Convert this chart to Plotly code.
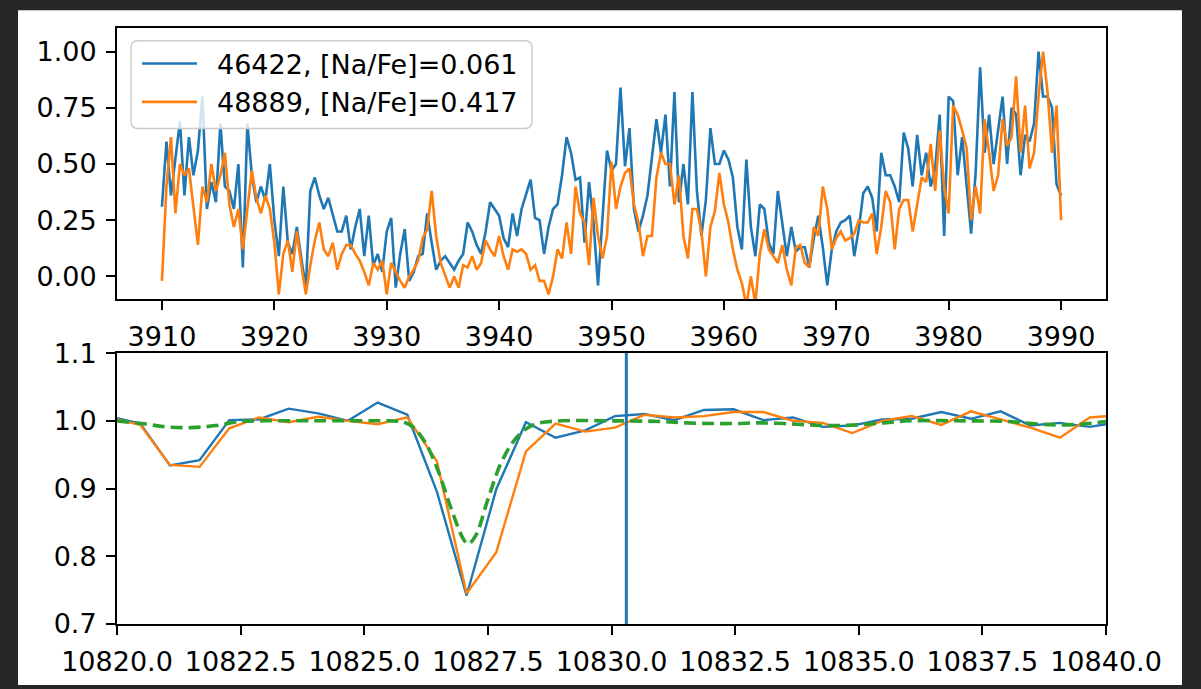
import plotly.graph_objects as go

# ---------------- data ----------------
# top panel: wavelength grid (Angstrom) and normalised fluxes
wl_start, wl_step, n_pts = 3910.0, 0.4, 201
wl_top = [round(wl_start + wl_step * i, 2) for i in range(n_pts)]

flux_46422 = [
    0.31, 0.60, 0.36, 0.52, 0.69, 0.36, 0.62, 0.45, 0.56, 0.80,
    0.30, 0.42, 0.33, 0.68, 0.40, 0.38, 0.30, 0.50, 0.04, 0.68,
    0.45, 0.33, 0.40, 0.34, 0.50, 0.25, 0.09, 0.40, 0.15, 0.10,
    0.22, 0.08, -0.05, 0.38, 0.44, 0.36, 0.30, 0.35, 0.28, 0.20,
    0.20, 0.27, 0.12, 0.22, 0.30, 0.09, 0.27, 0.05, 0.10, 0.02,
    0.20, 0.26, -0.05, 0.10, 0.21, -0.02, 0.02, 0.09, 0.10, 0.28,
    0.15, 0.03, 0.07, 0.09, 0.06, 0.03, 0.07, 0.10, 0.24, 0.20,
    0.14, 0.10, 0.20, 0.33, 0.30, 0.27, 0.17, 0.13, 0.28, 0.18,
    0.30, 0.36, 0.43, 0.26, 0.25, 0.10, 0.22, 0.30, 0.32, 0.45,
    0.62, 0.55, 0.43, 0.44, 0.15, 0.42, 0.24, -0.04, 0.24, 0.56,
    0.47, 0.50, 0.84, 0.49, 0.66, 0.30, 0.20, 0.27, 0.36, 0.53,
    0.70, 0.55, 0.72, 0.40, 0.82, 0.33, 0.50, 0.32, 0.82, 0.38,
    0.18, 0.34, 0.66, 0.50, 0.50, 0.56, 0.52, 0.44, 0.22, 0.12,
    0.52, 0.22, 0.09, 0.32, 0.30, 0.15, 0.10, 0.38, 0.24, 0.09,
    0.22, 0.11, 0.13, 0.13, 0.04, 0.17, 0.27, 0.13, -0.04, 0.12,
    0.20, 0.24, 0.25, 0.27, 0.09, 0.21, 0.37, 0.40, 0.35, 0.20,
    0.55, 0.45, 0.45, 0.40, 0.33, 0.64, 0.57, 0.40, 0.63, 0.45,
    0.55, 0.40, 0.48, 0.72, 0.18, 0.80, 0.78, 0.45, 0.62, 0.41,
    0.19, 0.46, 0.93, 0.55, 0.72, 0.50, 0.66, 0.80, 0.50, 0.75,
    0.72, 0.45, 0.63, 0.60, 0.68, 1.00, 0.80, 0.80, 0.75, 0.41,
    0.36,
]

flux_48889 = [
    -0.02, 0.40, 0.62, 0.28, 0.50, 0.45, 0.48, 0.30, 0.14, 0.40,
    0.33, 0.50, 0.38, 0.45, 0.55, 0.32, 0.22, 0.30, 0.12, 0.30,
    0.47, 0.35, 0.28, 0.36, 0.30, 0.15, -0.08, 0.10, 0.16, 0.02,
    0.20, 0.05, -0.08, 0.05, 0.16, 0.24, 0.12, 0.09, 0.15, 0.03,
    0.10, 0.14, 0.14, 0.10, 0.07, 0.02, -0.04, 0.06, 0.03, 0.07,
    -0.08, 0.06, 0.02, -0.02, -0.05, 0.00, 0.03, 0.07, 0.17, 0.21,
    0.38, 0.18, 0.06, 0.00, -0.05, 0.00, -0.05, 0.05, 0.04, 0.09,
    0.03, 0.06, 0.16, 0.12, 0.09, 0.18, 0.09, 0.03, 0.12, 0.11,
    0.12, 0.10, 0.03, 0.05, -0.02, -0.02, -0.08, 0.00, 0.12, 0.08,
    0.24, 0.10, 0.40, 0.28, 0.24, 0.05, 0.35, 0.18, 0.08, 0.18,
    0.51, 0.30, 0.40, 0.46, 0.48, 0.32, 0.24, 0.09, 0.18, 0.18,
    0.44, 0.55, 0.50, 0.50, 0.32, 0.45, 0.18, 0.08, 0.30, 0.30,
    0.20, 0.00, 0.22, 0.29, 0.46, 0.32, 0.24, 0.12, 0.03, -0.03,
    -0.13, 0.00, -0.12, 0.10, 0.21, 0.12, 0.09, 0.06, 0.14, 0.03,
    -0.04, 0.13, 0.14, 0.06, 0.04, 0.22, 0.18, 0.40, 0.30, 0.12,
    0.17, 0.20, 0.16, 0.17, 0.19, 0.25, 0.24, 0.24, 0.28, 0.10,
    0.22, 0.38, 0.33, 0.12, 0.30, 0.34, 0.34, 0.20, 0.32, 0.44,
    0.42, 0.59, 0.38, 0.65, 0.40, 0.28, 0.76, 0.72, 0.65, 0.57,
    0.25, 0.40, 0.28, 0.70, 0.55, 0.38, 0.45, 0.70, 0.58, 0.62,
    0.89, 0.55, 0.76, 0.48, 0.55, 0.80, 1.00, 0.82, 0.55, 0.76,
    0.25,
]

# bottom panel: He I 10830 region
wl_bot = [10819.87, 10820.47, 10821.07, 10821.67, 10822.27, 10822.87, 10823.47,
          10824.07, 10824.67, 10825.27, 10825.87, 10826.47, 10827.07, 10827.67,
          10828.27, 10828.87, 10829.47, 10830.07, 10830.67, 10831.27, 10831.87,
          10832.47, 10833.07, 10833.67, 10834.27, 10834.87, 10835.47, 10836.07,
          10836.67, 10837.27, 10837.87, 10838.47, 10839.07, 10839.67, 10840.27]
he_46422 = [1.006, 0.996, 0.934, 0.942, 1.001, 1.002, 1.018, 1.011, 1.000, 1.027,
            1.009, 0.895, 0.742, 0.899, 0.998, 0.975, 0.986, 1.007, 1.010, 1.001,
            1.016, 1.017, 1.001, 1.005, 0.991, 0.993, 1.002, 1.003, 1.013, 1.003,
            1.014, 0.993, 0.997, 0.991, 0.998]
he_48889 = [1.004, 0.994, 0.935, 0.932, 0.989, 1.005, 0.998, 1.006, 1.000, 0.995,
            1.005, 0.940, 0.745, 0.806, 0.955, 0.996, 0.984, 0.990, 1.009, 1.005,
            1.007, 1.013, 1.013, 1.000, 0.997, 0.982, 1.000, 1.007, 0.994, 1.014,
            1.002, 0.990, 0.975, 1.005, 1.008]
model_wl = [10820.0, 10820.5, 10821.0, 10821.5, 10822.0, 10822.5, 10823.0, 10824.0,
            10825.0, 10825.5, 10825.8, 10826.0, 10826.25, 10826.5, 10826.75, 10827.0,
            10827.1, 10827.25, 10827.5, 10827.75, 10828.0, 10828.25, 10828.5, 10829.0,
            10830.0, 10831.0, 10831.5, 10832.0, 10832.5, 10833.0, 10833.5, 10834.0,
            10834.5, 10835.0, 10835.5, 10836.0, 10837.0, 10838.0, 10838.5, 10839.0,
            10839.5, 10840.0]
model_flux = [1.000, 0.996, 0.991, 0.990, 0.993, 0.999, 1.000, 1.000,
              1.000, 1.000, 0.998, 0.990, 0.966, 0.925, 0.872, 0.826,
              0.818, 0.830, 0.884, 0.935, 0.968, 0.987, 0.996, 1.000,
              1.000, 0.999, 0.997, 0.996, 0.996, 0.997, 0.996, 0.994,
              0.993, 0.994, 0.997, 1.000, 1.000, 0.999, 0.996, 0.994,
              0.995, 0.999]
he_line = 10830.3

labels = ["46422, [Na/Fe]=0.061", "48889, [Na/Fe]=0.417"]

top_xticks = [3910, 3920, 3930, 3940, 3950, 3960, 3970, 3980, 3990]
top_yticks = [0.0, 0.25, 0.5, 0.75, 1.0]
bot_xticks = [10820.0, 10822.5, 10825.0, 10827.5, 10830.0, 10832.5, 10835.0, 10837.5, 10840.0]
bot_yticks = [0.7, 0.8, 0.9, 1.0, 1.1]

# ---------------- layout helpers (pixel -> paper) ----------------
W, H = 1201, 689
L, R, T, B = 117, 1106, 22, 627


def pxx(x):
    return (x - L) / (R - L)


def pxy(y):
    return (B - y) / (B - T)


C0, C1, C2 = "#1f77b4", "#ff7f0e", "#2ca02c"
FONT = "DejaVu Sans"
FS = 27
DARK = "#262626"

fig = go.Figure()
fig.add_trace(go.Scatter(x=wl_top, y=flux_46422, mode="lines", line=dict(color=C0, width=2.6),
                         xaxis="x", yaxis="y", name=labels[0], showlegend=False))
fig.add_trace(go.Scatter(x=wl_top, y=flux_48889, mode="lines", line=dict(color=C1, width=2.6),
                         xaxis="x", yaxis="y", name=labels[1], showlegend=False))
fig.add_trace(go.Scatter(x=wl_bot, y=he_46422, mode="lines", line=dict(color=C0, width=2.4),
                         xaxis="x2", yaxis="y2", showlegend=False))
fig.add_trace(go.Scatter(x=wl_bot, y=he_48889, mode="lines", line=dict(color=C1, width=2.4),
                         xaxis="x2", yaxis="y2", showlegend=False))
fig.add_trace(go.Scatter(x=model_wl, y=model_flux, mode="lines",
                         line=dict(color=C2, width=3.6, dash="12px,6px", shape="spline"),
                         xaxis="x2", yaxis="y2", showlegend=False))

axis_common = dict(showline=True, mirror=True, linecolor="black", linewidth=2,
                   ticks="outside", ticklen=9, tickwidth=2, tickcolor="black",
                   showgrid=False, zeroline=False,
                   tickfont=dict(family=FONT, size=FS, color="black"))

fig.update_layout(
    width=W, height=H,
    margin=dict(l=L, r=W - R, t=T, b=H - B, pad=0),
    paper_bgcolor=DARK,
    plot_bgcolor="white",
    showlegend=False,
    xaxis=dict(domain=[0, 1], anchor="y", range=[3906, 3994], tickvals=top_xticks,
               ticktext=[str(v) for v in top_xticks], ticklabelstandoff=4, **axis_common),
    yaxis=dict(domain=[pxy(297), 1], anchor="x", range=[-0.1, 1.105], tickvals=top_yticks,
               tickformat=".2f", ticklabelstandoff=4, **axis_common),
    xaxis2=dict(domain=[0, 1], anchor="y2", range=[10820, 10840], tickvals=bot_xticks,
                tickformat=".1f", ticklabelstandoff=4, **axis_common),
    yaxis2=dict(domain=[0, pxy(352)], anchor="x2", range=[0.7, 1.1], tickvals=bot_yticks,
                tickformat=".1f", ticklabelstandoff=4, **axis_common),
)

shapes = []
# white figure canvas inside dark frame
shapes.append(dict(type="rect", xref="paper", yref="paper", layer="below",
                   x0=pxx(18), x1=pxx(1182), y0=pxy(689), y1=pxy(4),
                   fillcolor="white", line=dict(width=0)))
# vertical He I line
shapes.append(dict(type="line", xref="x2", yref="y2 domain", x0=he_line, x1=he_line,
                   y0=0, y1=1, line=dict(color=C0, width=3)))

# legend box (rounded)
lx0, lx1, ly0, ly1, rr = 131, 532, 35, 124, 7


def P(x, y):
    return f"{pxx(x):.5f},{pxy(y):.5f}"


path = (f"M {P(lx0 + rr, ly0)} L {P(lx1 - rr, ly0)} Q {P(lx1, ly0)} {P(lx1, ly0 + rr)} "
        f"L {P(lx1, ly1 - rr)} Q {P(lx1, ly1)} {P(lx1 - rr, ly1)} "
        f"L {P(lx0 + rr, ly1)} Q {P(lx0, ly1)} {P(lx0, ly1 - rr)} "
        f"L {P(lx0, ly0 + rr)} Q {P(lx0, ly0)} {P(lx0 + rr, ly0)} Z")
shapes.append(dict(type="path", xref="paper", yref="paper", path=path, layer="above",
                   fillcolor="rgba(255,255,255,0.8)", line=dict(color="#cccccc", width=1.5)))
for yy, col in [(58, C0), (97, C1)]:
    shapes.append(dict(type="line", xref="paper", yref="paper", layer="above",
                       x0=pxx(142), x1=pxx(197), y0=pxy(yy), y1=pxy(yy),
                       line=dict(color=col, width=2.6)))
fig.update_layout(shapes=shapes)

annots = []
for yy, txt in [(58, labels[0]), (97, labels[1])]:
    annots.append(dict(xref="paper", yref="paper", x=pxx(215), y=pxy(yy + 1), text=txt,
                       showarrow=False, xanchor="left", yanchor="middle",
                       font=dict(family=FONT, size=FS, color="black")))
fig.update_layout(annotations=annots)

page_js = (
    "document.documentElement.style.margin='0';"
    "document.body.style.margin='0';"
    "document.body.style.padding='0';"
    "document.body.style.overflow='hidden';"
    f"document.body.style.background='{DARK}';"
)
fig.write_html("out.html", config={"displayModeBar": False}, post_script=page_js)
